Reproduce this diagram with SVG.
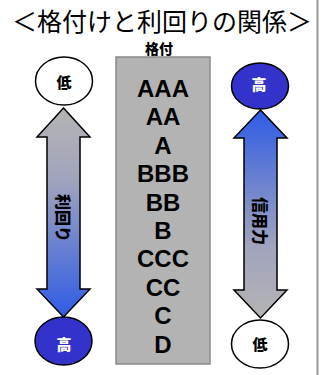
<svg xmlns="http://www.w3.org/2000/svg" width="327" height="375" viewBox="0 0 327 375">
<defs>
<linearGradient id="gDown" x1="0" y1="0" x2="0" y2="1">
<stop offset="0" stop-color="#b4b4b4"/>
<stop offset="0.35" stop-color="#a0a3bd"/>
<stop offset="1" stop-color="#2f5ce6"/>
</linearGradient>
<linearGradient id="gUp" x1="0" y1="0" x2="0" y2="1">
<stop offset="0" stop-color="#2f5ce6"/>
<stop offset="0.65" stop-color="#a0a3bd"/>
<stop offset="1" stop-color="#b4b4b4"/>
</linearGradient>
<style>
.cjk{font-family:"Noto Sans CJK JP","Noto Sans CJK SC",sans-serif;}
.b{font-weight:900;}
.rate{font-family:"Liberation Sans",Arial,sans-serif;font-weight:bold;font-size:24px;text-anchor:middle;fill:#000;}
.ell{stroke:#000;stroke-width:1.5;}
.arr{stroke:#000;stroke-width:1.5;stroke-linejoin:miter;}
.lbl{font-size:15px;text-anchor:middle;}
</style>
</defs>
<rect width="327" height="375" fill="#fff"/>
<line x1="317.5" y1="0" x2="317.5" y2="375" stroke="#999" stroke-width="2"/>
<text class="cjk" x="162" y="30.5" font-size="25" text-anchor="middle" fill="#000">＜格付けと利回りの関係＞</text>
<g id="ratings">
<text class="cjk b" x="159" y="54" font-size="14" text-anchor="middle" fill="#000">格付</text>
<rect x="116" y="57" width="94" height="307" fill="#b3b3b3" stroke="#8a8a8a" stroke-width="1.5"/>
<text class="rate" x="163" y="97">AAA</text>
<text class="rate" x="163" y="125.4">AA</text>
<text class="rate" x="163" y="153.8">A</text>
<text class="rate" x="163" y="182.2">BBB</text>
<text class="rate" x="163" y="210.6">BB</text>
<text class="rate" x="163" y="239">B</text>
<text class="rate" x="163" y="267.4">CCC</text>
<text class="rate" x="163" y="295.8">CC</text>
<text class="rate" x="163" y="324.2">C</text>
<text class="rate" x="163" y="352.6">D</text>
</g>
<g id="connectors">
<path id="yieldArrow" class="arr" fill="url(#gDown)" d="M63.5,108 L90,137 L80,137 L80,289 L90,289 L63.5,317 L37,289 L47,289 L47,137 L37,137 Z"/>
<path id="creditArrow" class="arr" fill="url(#gUp)" d="M260.5,110 L287,138 L277,138 L277,290 L287,290 L260.5,318 L234,290 L244,290 L244,138 L234,138 Z"/>
<text class="cjk b" transform="translate(63.5,218) rotate(90)" font-size="16" text-anchor="middle" dominant-baseline="central" fill="#000">利回り</text>
<text class="cjk b" transform="translate(260.5,221) rotate(90)" font-size="16" text-anchor="middle" dominant-baseline="central" fill="#000">信用力</text>
</g>
<g id="leftLow">
<ellipse class="ell" cx="64" cy="81" rx="28.5" ry="24" fill="#fff"/>
<text class="cjk b lbl" x="64" y="87.5" fill="#000">低</text>
</g>
<g id="leftHigh">
<ellipse class="ell" cx="63.5" cy="341" rx="28.5" ry="24" fill="#3333cc"/>
<text class="cjk b lbl" x="64" y="350" fill="#fff">高</text>
</g>
<g id="rightHigh">
<ellipse class="ell" cx="260" cy="86" rx="28.5" ry="23" fill="#3333cc"/>
<text class="cjk b lbl" x="259" y="90" fill="#fff">高</text>
</g>
<g id="rightLow">
<ellipse class="ell" cx="260" cy="344" rx="28.5" ry="24" fill="#fff"/>
<text class="cjk b lbl" x="260" y="350" fill="#000">低</text>
</g>
</svg>
